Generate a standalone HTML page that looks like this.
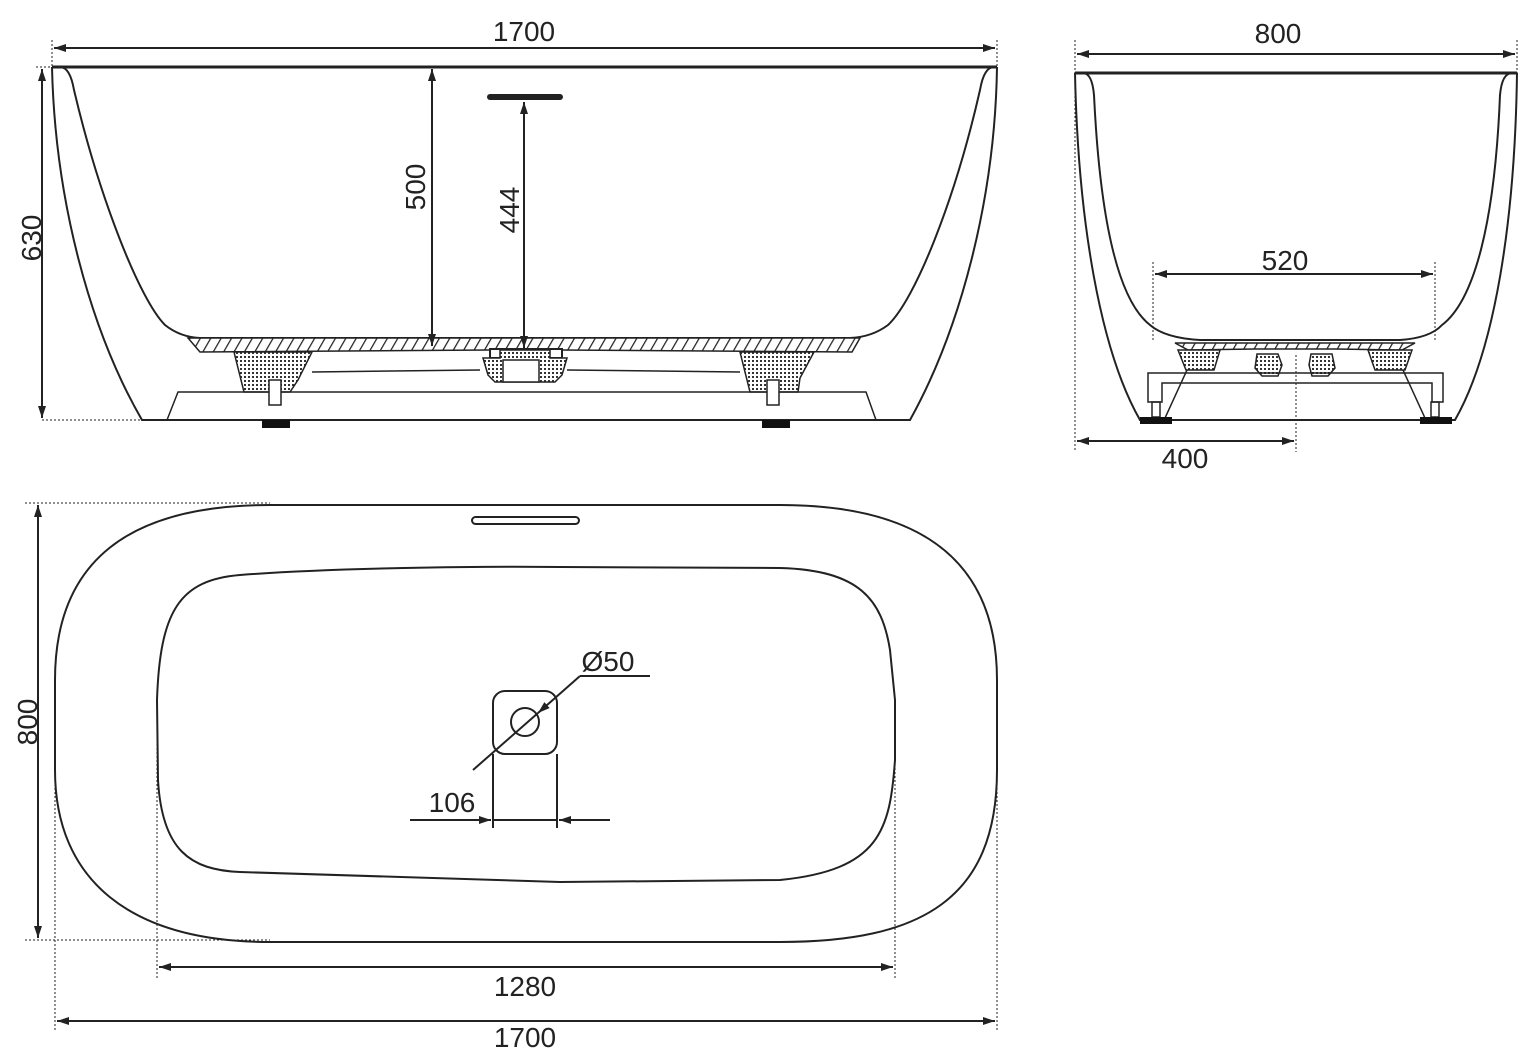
<!DOCTYPE html>
<html><head><meta charset="utf-8"><style>
html,body{margin:0;padding:0;background:#fff}
svg{display:block}
text{font-family:"Liberation Sans",Arial,sans-serif;font-size:28px;fill:#222}
</style></head><body>
<svg width="1535" height="1057" viewBox="0 0 1535 1057" xmlns="http://www.w3.org/2000/svg">
<defs>
<marker id="a" viewBox="0 0 12 8" refX="12" refY="4" markerWidth="12" markerHeight="8" orient="auto-start-reverse" markerUnits="userSpaceOnUse"><path d="M0,0L12,4L0,8z" fill="#222"/></marker>
<pattern id="h" width="9" height="9" patternUnits="userSpaceOnUse" patternTransform="rotate(30)"><rect width="9" height="9" fill="#fff"/><line x1="0" y1="0" x2="0" y2="9" stroke="#222" stroke-width="2.5"/></pattern>
<pattern id="d" width="4" height="4" patternUnits="userSpaceOnUse"><rect width="4" height="4" fill="#fff"/><rect width="2" height="2" fill="#333"/></pattern>
</defs>
<g fill="none" stroke="#222" stroke-width="2">
<line x1="52" y1="67" x2="997" y2="67" stroke-width="3"/>
<path d="M52,67 C55,200 90,330 142,420 L910,420 C960,330 995,200 997,67"/>
<path d="M60,67 Q70,67 74,90 C100,200 140,300 165,325 Q180,337 200,338 L850,338 Q872,337 888,325 C915,300 955,200 980,90 Q984,67 994,67"/>
<path d="M188,338 L860,338 L852,352 L560,350 L490,350 L200,352 Z" fill="url(#h)" stroke-width="1.5"/>
<rect x="490" y="349" width="72" height="9" fill="#fff"/>
<path d="M234,352 L312,352 L298,380 L290,392 L244,392 Z" fill="url(#d)" stroke-width="1.5"/>
<path d="M740,352 L814,352 L800,378 L798,392 L750,392 Z" fill="url(#d)" stroke-width="1.5"/>
<path d="M483,358 L500,358 L500,350 L550,350 L550,358 L567,358 L562,375 L555,382 L495,382 L488,375 Z" fill="url(#d)" stroke-width="1.5"/>
<rect x="503" y="360" width="36" height="22" fill="#fff" stroke-width="1.5"/>
<path d="M312,372 L480,370 M567,370 L740,372" stroke-width="1.5"/>
<path d="M167,420 L178,392 L866,392 L876,420" stroke-width="1.5"/>
<rect x="269" y="380" width="12" height="25" fill="#fff" stroke-width="1.5"/>
<rect x="767" y="380" width="12" height="25" fill="#fff" stroke-width="1.5"/>
<line x1="42" y1="420" x2="142" y2="420" stroke-dasharray="2,2" stroke-width="1"/>
<line x1="36" y1="67" x2="60" y2="67" stroke-dasharray="2,2" stroke-width="1"/>
<line x1="52" y1="40" x2="52" y2="67" stroke-dasharray="2,2" stroke-width="1"/>
<line x1="997" y1="40" x2="997" y2="67" stroke-dasharray="2,2" stroke-width="1"/>
<line x1="54" y1="48" x2="995" y2="48" marker-start="url(#a)" marker-end="url(#a)"/>
<line x1="42" y1="69" x2="42" y2="418" marker-start="url(#a)" marker-end="url(#a)"/>
<line x1="432" y1="69" x2="432" y2="346" marker-start="url(#a)" marker-end="url(#a)"/>
<line x1="524" y1="102" x2="524" y2="348" marker-start="url(#a)" marker-end="url(#a)"/>
<line x1="490" y1="97" x2="560" y2="97" stroke-width="6" stroke-linecap="round"/>
<line x1="1075" y1="73" x2="1517" y2="73" stroke-width="3"/>
<path d="M1075,73 C1078,220 1100,350 1140,420 L1455,420 C1495,350 1515,220 1517,73"/>
<path d="M1083,73 Q1092,73 1094,95 C1100,220 1118,300 1150,325 Q1165,338 1200,340 L1400,340 Q1430,338 1442,325 C1475,300 1495,220 1500,95 Q1502,73 1512,73"/>
<path d="M1175,343 L1415,343 L1402,350 L1335,349 L1255,349 L1188,350 Z" fill="url(#h)" stroke-width="1.5"/>
<path d="M1178,350 L1220,350 L1214,370 L1186,370 Z" fill="url(#d)" stroke-width="1.5"/>
<path d="M1368,350 L1412,350 L1405,370 L1375,370 Z" fill="url(#d)" stroke-width="1.5"/>
<path d="M1257,354 L1278,354 L1282,365 L1278,376 L1262,376 L1255,368 Z" fill="url(#d)" stroke-width="1.5"/>
<path d="M1311,354 L1332,354 L1335,368 L1328,376 L1312,376 L1309,365 Z" fill="url(#d)" stroke-width="1.5"/>
<path d="M1148,402 L1148,373 L1443,373 L1443,402 L1432,402 L1432,383 L1162,383 L1162,402 Z" stroke-width="1.5"/>
<path d="M1187,370 L1165,418 M1403,370 L1425,418" stroke-width="1.5"/>
<rect x="1152" y="402" width="8" height="15" stroke-width="1.5"/>
<rect x="1431" y="402" width="8" height="15" stroke-width="1.5"/>
<line x1="1075" y1="40" x2="1075" y2="452" stroke-dasharray="2,2" stroke-width="1"/>
<line x1="1517" y1="40" x2="1517" y2="73" stroke-dasharray="2,2" stroke-width="1"/>
<line x1="1296" y1="355" x2="1296" y2="452" stroke-dasharray="2,2" stroke-width="1"/>
<line x1="1153" y1="262" x2="1153" y2="340" stroke-dasharray="2,2" stroke-width="1"/>
<line x1="1435" y1="262" x2="1435" y2="340" stroke-dasharray="2,2" stroke-width="1"/>
<line x1="1077" y1="54" x2="1515" y2="54" marker-start="url(#a)" marker-end="url(#a)"/>
<line x1="1155" y1="274" x2="1433" y2="274" marker-start="url(#a)" marker-end="url(#a)"/>
<line x1="1077" y1="441" x2="1294" y2="441" marker-start="url(#a)" marker-end="url(#a)"/>
<path d="M270,505 L780,505 C920,505 997,560 997,680 L997,770 C997,900 920,942 780,942 L270,942 C130,942 55,880 55,770 L55,680 C55,560 130,505 270,505 Z"/>
<path d="M240,575 C330,568 480,566 560,567 L780,568 C860,570 882,600 890,650 L895,700 L895,760 C890,830 880,870 780,880 L560,882 L240,872 C190,870 162,850 158,780 L157,700 C160,610 180,580 240,575 Z"/>
<rect x="472" y="517" width="107" height="7" rx="3.5"/>
<rect x="493" y="691" width="64" height="63" rx="12"/>
<circle cx="525" cy="722" r="14"/>
<line x1="473" y1="770" x2="538" y2="713"/>
<line x1="580" y1="676" x2="538" y2="713" marker-end="url(#a)"/>
<line x1="580" y1="676" x2="650" y2="676"/>
<line x1="493" y1="754" x2="493" y2="828"/>
<line x1="557" y1="754" x2="557" y2="828"/>
<line x1="410" y1="820" x2="491" y2="820" marker-end="url(#a)"/>
<line x1="493" y1="820" x2="557" y2="820"/>
<line x1="610" y1="820" x2="559" y2="820" marker-end="url(#a)"/>
<line x1="25" y1="503" x2="270" y2="503" stroke-dasharray="2,2" stroke-width="1"/>
<line x1="25" y1="940" x2="270" y2="940" stroke-dasharray="2,2" stroke-width="1"/>
<line x1="55" y1="760" x2="55" y2="1030" stroke-dasharray="2,2" stroke-width="1"/>
<line x1="997" y1="760" x2="997" y2="1030" stroke-dasharray="2,2" stroke-width="1"/>
<line x1="157" y1="740" x2="157" y2="980" stroke-dasharray="2,2" stroke-width="1"/>
<line x1="895" y1="740" x2="895" y2="980" stroke-dasharray="2,2" stroke-width="1"/>
<line x1="38" y1="505" x2="38" y2="938" marker-start="url(#a)" marker-end="url(#a)"/>
<line x1="159" y1="967" x2="893" y2="967" marker-start="url(#a)" marker-end="url(#a)"/>
<line x1="57" y1="1021" x2="995" y2="1021" marker-start="url(#a)" marker-end="url(#a)"/>
</g>
<g fill="#111">
<rect x="262" y="420" width="28" height="8"/>
<rect x="762" y="420" width="28" height="8"/>
<rect x="1140" y="417" width="32" height="7"/>
<rect x="1420" y="417" width="32" height="7"/>
</g>
<text x="524" y="41" text-anchor="middle">1700</text>
<text x="1278" y="43" text-anchor="middle">800</text>
<text x="1285" y="270" text-anchor="middle">520</text>
<text x="1185" y="468" text-anchor="middle">400</text>
<text x="608" y="671" text-anchor="middle">Ø50</text>
<text x="452" y="812" text-anchor="middle">106</text>
<text x="525" y="996" text-anchor="middle">1280</text>
<text x="525" y="1047" text-anchor="middle">1700</text>
<text transform="translate(41,238) rotate(-90)" text-anchor="middle">630</text>
<text transform="translate(425,187) rotate(-90)" text-anchor="middle">500</text>
<text transform="translate(519,210) rotate(-90)" text-anchor="middle">444</text>
<text transform="translate(37,722) rotate(-90)" text-anchor="middle">800</text>
</svg>
</body></html>
